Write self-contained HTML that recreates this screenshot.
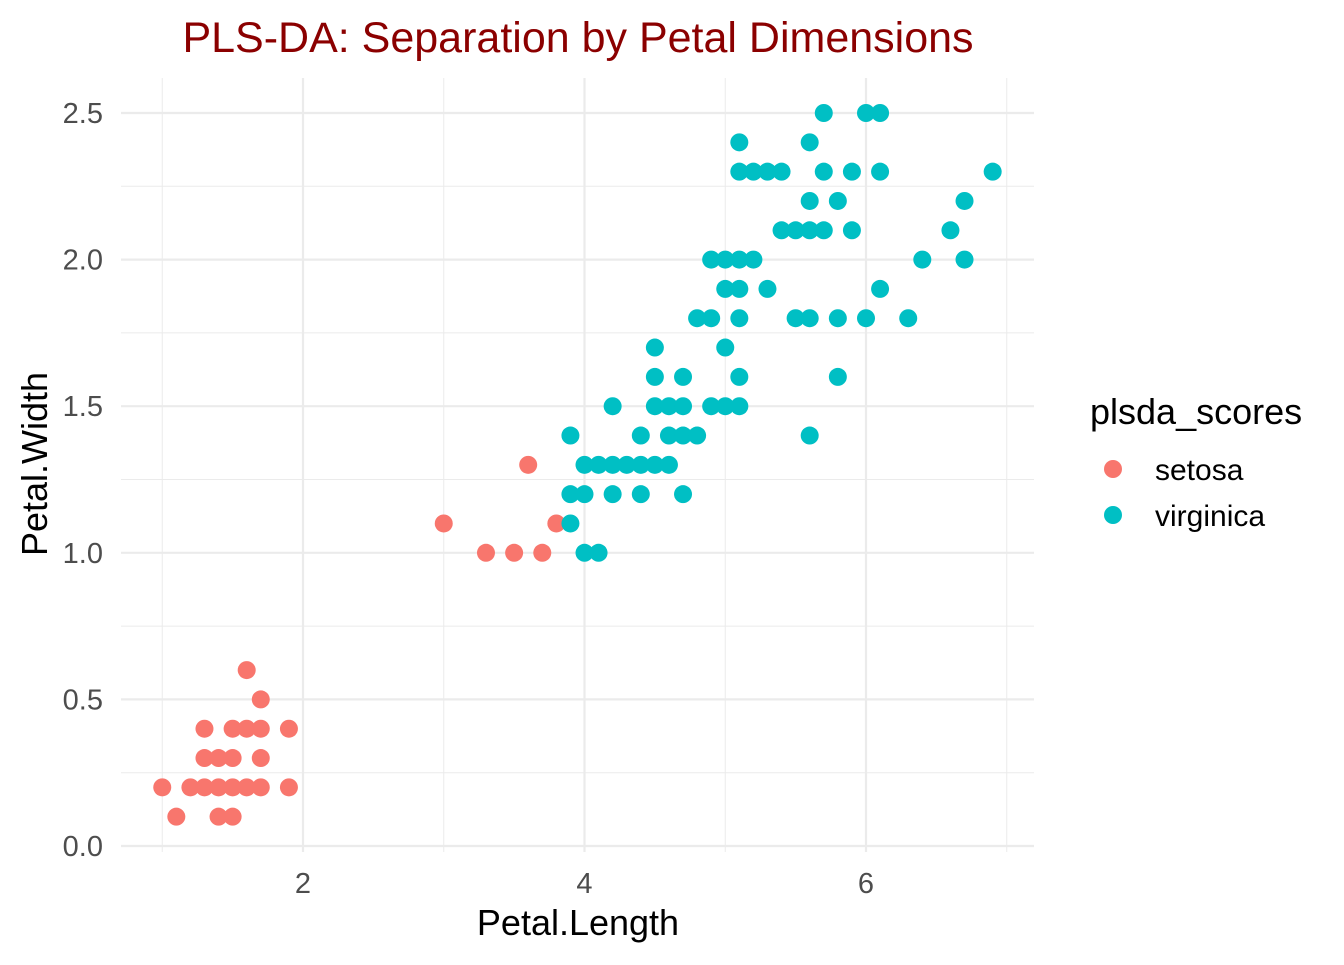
<!DOCTYPE html>
<html><head><meta charset="utf-8"><style>
body{margin:0;background:#fff}
svg text{font-family:"Liberation Sans",Arial,sans-serif}
</style></head><body>
<svg id="chart" width="1344" height="960" xmlns="http://www.w3.org/2000/svg">
<text x="578" y="52" text-anchor="middle" font-size="43" fill="#8B0000">PLS-DA: Separation by Petal Dimensions</text>
<g id="grid"></g>
<g id="ticks"></g>
<g id="points"></g>
<text x="578" y="935" text-anchor="middle" font-size="36" fill="#000">Petal.Length</text>
<text transform="translate(47,464) rotate(-90)" text-anchor="middle" font-size="36" fill="#000">Petal.Width</text>
<g>
<text x="1090" y="424" font-size="36" fill="#000">plsda_scores</text>
<circle cx="1113" cy="469" r="9" fill="#F8766D"/>
<text x="1155" y="480" font-size="30" fill="#000">setosa</text>
<circle cx="1113" cy="515" r="9" fill="#00BFC4"/>
<text x="1155" y="526" font-size="30" fill="#000">virginica</text>
</g>
</svg>
<script>
const setosaX=[1.0,1.2,1.3,1.4,1.5,1.6,1.7,1.9,1.1,1.4,1.5,1.3,1.4,1.5,1.7,1.3,1.5,1.6,1.7,1.9,1.7,1.6,3.0,3.3,3.5,3.6,3.7,3.8];
const setosaY=[0.2,0.2,0.2,0.2,0.2,0.2,0.2,0.2,0.1,0.1,0.1,0.3,0.3,0.3,0.3,0.4,0.4,0.4,0.4,0.4,0.5,0.6,1.1,1.0,1.0,1.3,1.0,1.1];
const virgX=[4.0,4.1,3.9,3.9,4.0,4.2,4.4,4.7,4.0,4.1,4.2,4.3,4.4,4.5,4.6,3.9,4.4,4.6,4.7,4.8,5.6,4.2,4.5,4.6,4.7,4.9,5.0,5.1,4.5,4.7,5.1,5.8,4.5,5.0,4.8,4.9,5.1,5.5,5.6,5.8,6.0,6.3,5.0,5.1,5.3,6.1,4.9,5.0,5.1,5.2,6.4,6.7,5.4,5.5,5.6,5.7,5.9,6.6,5.6,5.8,6.7,5.1,5.2,5.3,5.4,5.7,5.9,6.1,6.9,5.1,5.6,5.7,6.0,6.1];
const virgY=[1.0,1.0,1.1,1.2,1.2,1.2,1.2,1.2,1.3,1.3,1.3,1.3,1.3,1.3,1.3,1.4,1.4,1.4,1.4,1.4,1.4,1.5,1.5,1.5,1.5,1.5,1.5,1.5,1.6,1.6,1.6,1.6,1.7,1.7,1.8,1.8,1.8,1.8,1.8,1.8,1.8,1.8,1.9,1.9,1.9,1.9,2.0,2.0,2.0,2.0,2.0,2.0,2.1,2.1,2.1,2.1,2.1,2.1,2.2,2.2,2.2,2.3,2.3,2.3,2.3,2.3,2.3,2.3,2.3,2.4,2.4,2.5,2.5,2.5];
const xTicks=[2,4,6];
const xMinor=[1,3,5,7];
const yTicks=[0,0.5,1,1.5,2,2.5];
const yTickLabels=["0.0","0.5","1.0","1.5","2.0","2.5"];
const yMinor=[0.25,0.75,1.25,1.75,2.25];
const ns="http://www.w3.org/2000/svg";
const L=121,R=1034,T=78,B=852;
const sx=v=>303+(v-2)*140.75;
const sy=v=>846-v*293.2;
function mk(tag,attrs,parent){const e=document.createElementNS(ns,tag);for(const k in attrs)e.setAttribute(k,attrs[k]);document.getElementById(parent).appendChild(e);return e;}
xMinor.forEach(v=>{const e=mk('line',{x1:sx(v),x2:sx(v),y1:T,y2:B,stroke:'#EBEBEB','stroke-width':1},'grid');

});
yMinor.forEach(v=>{const e=mk('line',{x1:L,x2:R,y1:sy(v),y2:sy(v),stroke:'#EBEBEB','stroke-width':1},'grid');

});
xTicks.forEach(v=>{const e=mk('line',{x1:sx(v),x2:sx(v),y1:T,y2:B,stroke:'#EBEBEB','stroke-width':2.2},'grid');


const t=mk('text',{x:sx(v),y:893,'text-anchor':'middle','font-size':29,fill:'#4D4D4D'},'ticks');t.textContent=v;

});
yTicks.forEach((v,i)=>{const e=mk('line',{x1:L,x2:R,y1:sy(v),y2:sy(v),stroke:'#EBEBEB','stroke-width':2.2},'grid');


const t=mk('text',{x:103,y:sy(v)+10,'text-anchor':'end','font-size':29,fill:'#4D4D4D'},'ticks');t.textContent=yTickLabels[i];

});
setosaX.forEach((v,i)=>{const c=mk('circle',{cx:sx(v),cy:sy(setosaY[i]),r:9,fill:'#F8766D'},'points');

});
virgX.forEach((v,i)=>{const c=mk('circle',{cx:sx(v),cy:sy(virgY[i]),r:9,fill:'#00BFC4'},'points');

});
</script>
</body></html>
